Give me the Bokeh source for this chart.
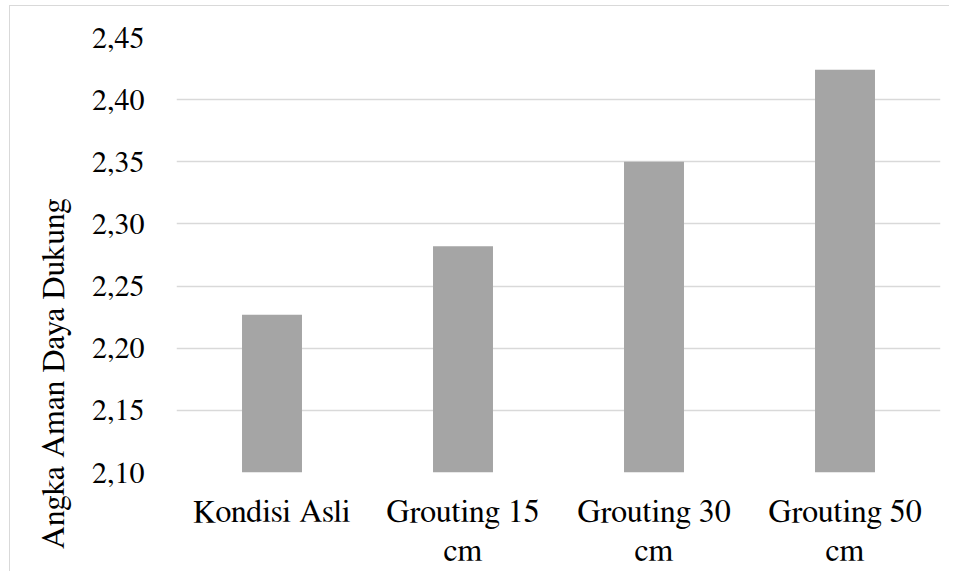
from bokeh.plotting import figure
from bokeh.models import FixedTicker, CustomJSTickFormatter, Title, CategoricalAxis
from bokeh.embed import file_html
from bokeh.resources import INLINE

categories = ["Kondisi Asli", "Grouting 15 cm", "Grouting 30 cm", "Grouting 50 cm"]
label_line1 = ["Kondisi Asli", "Grouting 15", "Grouting 30", "Grouting 50"]
label_line2 = ["", "cm", "cm", "cm"]
values = [2.227, 2.282, 2.350, 2.424]
y_ticks = [2.10, 2.15, 2.20, 2.25, 2.30, 2.35, 2.40, 2.45]
y_title = "Angka Aman Daya Dukung"

FONT = "FreeSerif"

p = figure(x_range=categories, y_range=(2.10, 2.45), width=940, height=566,
           output_backend="svg", toolbar_location=None,
           min_border_left=166, min_border_right=10, min_border_top=31, min_border_bottom=100,
           styles={"border-left": "1px solid #d9d9d9", "border-top": "1px solid #d9d9d9",
                   "margin-left": "9px", "margin-top": "5px"})
p.background_fill_color = "white"
p.border_fill_color = "white"
p.outline_line_color = None

p.vbar(x=categories, top=values, bottom=2.10, width=0.314,
       fill_color="#a5a5a5", line_color=None)

p.xgrid.grid_line_color = None
p.ygrid.grid_line_color = "#d9d9d9"
p.ygrid.grid_line_width = 1.5

p.yaxis.ticker = FixedTicker(ticks=y_ticks)
p.yaxis.formatter = CustomJSTickFormatter(code="return tick.toFixed(2).replace('.', ',');")

x2 = CategoricalAxis()
p.add_layout(x2, "below")

for ax in (p.xaxis[0], p.yaxis[0], x2):
    ax.axis_line_color = None
    ax.major_tick_line_color = None
    ax.minor_tick_line_color = None
    ax.major_tick_in = 0
    ax.major_tick_out = 0
    ax.major_label_text_font = FONT
    ax.major_label_text_font_size = "32px"
    ax.major_label_text_color = "black"

p.yaxis.major_label_text_font_size = "30px"
p.yaxis.major_label_standoff = 32
p.xaxis[0].major_label_standoff = 23
p.xaxis[0].formatter = CustomJSTickFormatter(args=dict(keys=categories, labs=label_line1),
                                             code="return labs[keys.indexOf(tick)];")
x2.major_label_standoff = 4
x2.formatter = CustomJSTickFormatter(args=dict(keys=categories, labs=label_line2),
                                     code="return labs[keys.indexOf(tick)];")

t = Title(text=y_title, align="right", offset=161, standoff=40,
          text_font=FONT, text_font_size="32px", text_font_style="normal", text_color="black")
p.add_layout(t, "left")

open("out.html", "w").write(file_html(p, INLINE))
